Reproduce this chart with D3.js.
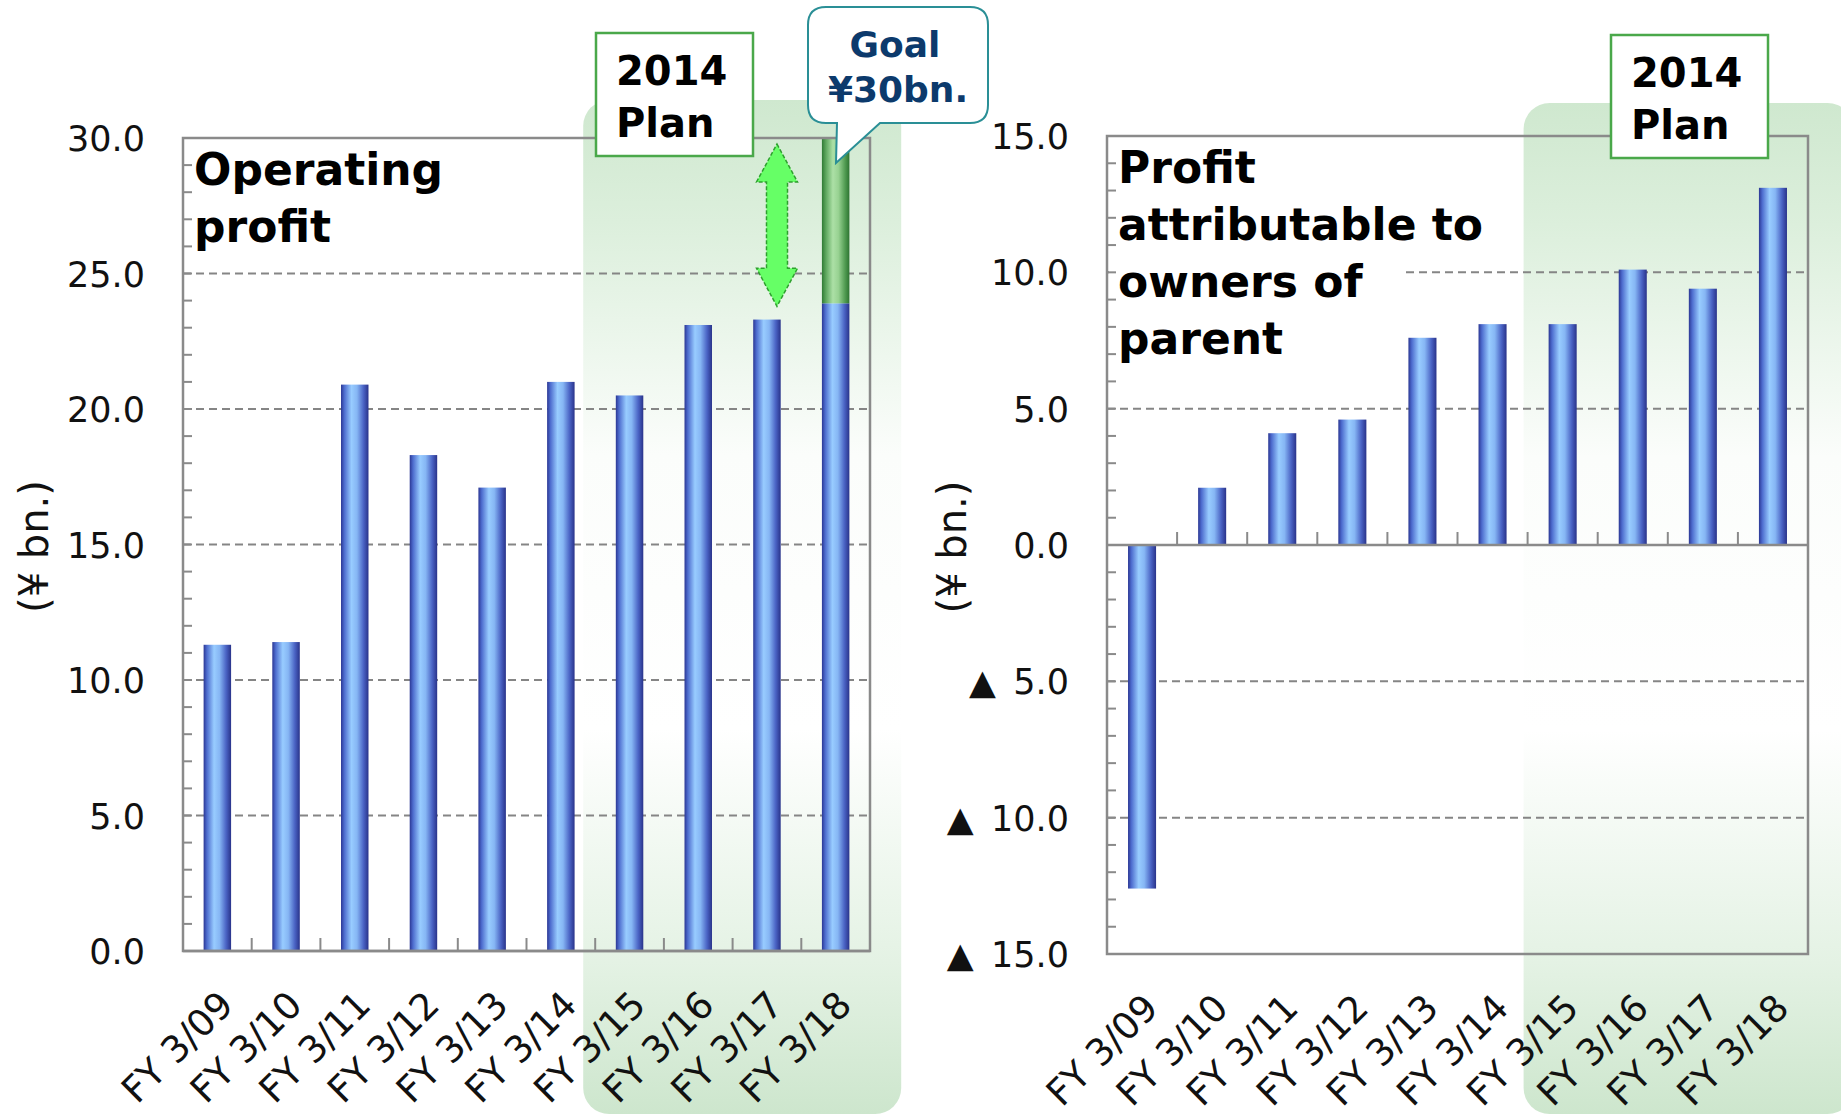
<!DOCTYPE html>
<html>
<head>
<meta charset="utf-8">
<script src="https://cdn.jsdelivr.net/npm/d3@7"></script>
<style>
  body { margin: 0; background: #fff; }
  svg { display: block; font-family: "DejaVu Sans", Verdana, sans-serif; }
  .tick-label { font-size: 35px; fill: #111; }
  .cat-label { font-size: 37px; fill: #111; }
  .unit-label { font-size: 40px; fill: #111; }
  .title { font-size: 44px; font-weight: bold; fill: #000; }
</style>
</head>
<body>
<svg id="chart" width="1841" height="1114"></svg>
<script>
// Operating profit / profit attributable to owners, FY3/09 - FY3/18 (¥ bn.)

const categories = ['FY 3/09', 'FY 3/10', 'FY 3/11', 'FY 3/12', 'FY 3/13',
                    'FY 3/14', 'FY 3/15', 'FY 3/16', 'FY 3/17', 'FY 3/18'];
const planCategories = ['FY 3/15', 'FY 3/16', 'FY 3/17', 'FY 3/18'];

const operatingProfit = [11.3, 11.4, 20.9, 18.3, 17.1, 21.0, 20.5, 23.1, 23.3, 23.9];
const operatingGoal = 30.0;   // goal for FY 3/18, shown stacked in green
const profitOwners = [-12.6, 2.1, 4.1, 4.6, 7.6, 8.1, 8.1, 10.1, 9.4, 13.1];

const leftTicks = [0, 5, 10, 15, 20, 25, 30];
const rightTicks = [-15, -10, -5, 0, 5, 10, 15];
const leftTitle = ['Operating', 'profit'];
const rightTitle = ['Profit', 'attributable to', 'owners of', 'parent'];
const unitLabel = '(¥ bn.)';

const svg = d3.select('#chart');
const defs = svg.append('defs');
const H = 1114;

function addGradient(id, stops, vertical) {
    const g = defs.append('linearGradient').attr('id', id)
        .attr('x1', 0).attr('y1', 0)
        .attr('x2', vertical ? 0 : 1).attr('y2', vertical ? 1 : 0);
    stops.forEach(s => g.append('stop').attr('offset', s[0]).attr('stop-color', s[1]));
}

addGradient('barBlue', [[0, '#2b3794'], [0.12, '#4d6cce'], [0.38, '#98ccff'],
    [0.58, '#86b6f4'], [0.82, '#4a63c4'], [1, '#29338a']]);
addGradient('barGreen', [[0, '#2f7a34'], [0.15, '#5fa85f'], [0.4, '#ace0a6'],
    [0.6, '#98d292'], [0.85, '#4f9a50'], [1, '#2e7432']]);
addGradient('bandGreen', [[0, '#cfe8cf'], [0.12, '#dcefdc'], [0.35, '#fbfdfb'],
    [0.62, '#ffffff'], [0.85, '#e4f2e4'], [1, '#cde6cd']], true);

const fmt = d3.format('.1f');

function drawPanel(opt) {
    const g = svg.append('g');
    const x = d3.scaleBand().domain(categories).range([opt.left, opt.right]);
    const y = d3.scaleLinear().domain(opt.domain).range([opt.bottom, opt.top]);
    const barW = x.bandwidth() * 0.4;

    // plan band
    const bx = x(planCategories[0]) - opt.bandOffset;
    g.append('rect')
        .attr('x', bx).attr('y', opt.bandTop)
        .attr('width', opt.bandWidth).attr('height', H - opt.bandTop)
        .attr('rx', 26)
        .attr('fill', 'url(#bandGreen)');

    // dashed grid lines
    g.selectAll('.grid')
        .data(opt.ticks.filter(t => t !== opt.domain[0] && t !== opt.domain[1] && t !== 0))
        .join('line')
        .attr('x1', opt.left).attr('x2', opt.right)
        .attr('y1', d => y(d)).attr('y2', d => y(d))
        .attr('stroke', '#858585').attr('stroke-width', 2)
        .attr('stroke-dasharray', '8,5');

    // bars
    g.selectAll('.bar')
        .data(opt.values)
        .join('rect')
        .attr('x', (d, i) => x(categories[i]) + (x.bandwidth() - barW) / 2)
        .attr('y', d => y(Math.max(0, d)))
        .attr('width', barW)
        .attr('height', d => Math.abs(y(d) - y(0)))
        .attr('fill', 'url(#barBlue)');

    if (opt.goal) {
        const last = categories[categories.length - 1];
        const v = opt.values[opt.values.length - 1];
        g.append('rect')
            .attr('x', x(last) + (x.bandwidth() - barW) / 2)
            .attr('y', y(opt.goal))
            .attr('width', barW)
            .attr('height', y(v) - y(opt.goal))
            .attr('fill', 'url(#barGreen)');
    }

    // title with white background
    g.append('rect')
        .attr('x', opt.left + 2).attr('y', opt.top + 2)
        .attr('width', opt.titleBox[0]).attr('height', opt.titleBox[1])
        .attr('fill', '#fff');
    const title = g.append('text').attr('class', 'title');
    opt.title.forEach((line, i) => {
        title.append('tspan')
            .attr('x', opt.left + 11)
            .attr('y', opt.top + 47 + i * 57)
            .text(line);
    });

    // minor ticks on y axis, every 1.0
    const minor = d3.range(opt.domain[0], opt.domain[1] + 0.001, 1);
    g.selectAll('.ytick')
        .data(minor)
        .join('line')
        .attr('x1', opt.left).attr('x2', opt.left + 9)
        .attr('y1', d => y(d)).attr('y2', d => y(d))
        .attr('stroke', '#8a8a8a').attr('stroke-width', 2);

    // zero line + category ticks
    g.append('line')
        .attr('x1', opt.left).attr('x2', opt.right)
        .attr('y1', y(0)).attr('y2', y(0))
        .attr('stroke', '#8a8a8a').attr('stroke-width', 2.5);
    g.selectAll('.xtick')
        .data(categories.slice(1))
        .join('line')
        .attr('x1', d => x(d)).attr('x2', d => x(d))
        .attr('y1', y(0)).attr('y2', y(0) - 13)
        .attr('stroke', '#8a8a8a').attr('stroke-width', 2);

    // frame
    g.append('rect')
        .attr('x', opt.left).attr('y', opt.top)
        .attr('width', opt.right - opt.left).attr('height', opt.bottom - opt.top)
        .attr('fill', 'none').attr('stroke', '#8a8a8a').attr('stroke-width', 2.5);

    // y tick labels
    g.selectAll('.ylabel')
        .data(opt.ticks)
        .join('text')
        .attr('class', 'tick-label')
        .attr('x', opt.left - 38)
        .attr('y', d => y(d) + 13)
        .attr('text-anchor', 'end')
        .text(d => d < 0 ? '▲\u2002' + fmt(-d) : fmt(d));

    // x category labels
    g.selectAll('.xlabel')
        .data(categories)
        .join('text')
        .attr('class', 'cat-label')
        .attr('text-anchor', 'end')
        .attr('transform', d => `translate(${x(d) + x.bandwidth() / 2 + 18},${opt.bottom + 56}) rotate(-45)`)
        .text(d => d);

    // unit label
    g.append('text')
        .attr('class', 'unit-label')
        .attr('text-anchor', 'middle')
        .attr('transform', `translate(${opt.unitX},${(opt.top + opt.bottom) / 2 + 2}) rotate(-90)`)
        .text(unitLabel);

    // 2014 Plan box
    const pb = g.append('g').attr('transform', `translate(${opt.planBox[0]},${opt.planBox[1]})`);
    pb.append('rect')
        .attr('width', 157).attr('height', 123)
        .attr('fill', '#fff').attr('stroke', '#4aa84a').attr('stroke-width', 2.5);
    pb.append('text').attr('class', 'title').style('font-size', '40px')
        .attr('x', 20).attr('y', 52).text('2014');
    pb.append('text').attr('class', 'title').style('font-size', '40px')
        .attr('x', 20).attr('y', 104).text('Plan');

    return { x, y };
}

const left = drawPanel({
    left: 183, right: 870, top: 138, bottom: 951,
    domain: [0, 30], ticks: leftTicks, values: operatingProfit, goal: operatingGoal,
    title: leftTitle, titleBox: [270, 120],
    bandOffset: 12, bandTop: 100, bandWidth: 318,
    unitX: 48, planBox: [596, 33]
});

const right = drawPanel({
    left: 1107, right: 1808, top: 136, bottom: 954,
    domain: [-15, 15], ticks: rightTicks, values: profitOwners,
    title: rightTitle, titleBox: [296, 232],
    bandOffset: 4, bandTop: 103, bandWidth: 330,
    unitX: 966, planBox: [1611, 35]
});

// double arrow: from goal down to FY 3/18 plan figure
const ax = 777;
const aTop = left.y(operatingGoal) + 6;
const aBot = left.y(operatingProfit[operatingProfit.length - 1]) + 3;
const headH = 38, headW = 20.5, shaftW = 10.5;
svg.append('path')
    .attr('d', [
        `M${ax},${aTop}`,
        `L${ax + headW},${aTop + headH}`, `L${ax + shaftW},${aTop + headH}`,
        `L${ax + shaftW},${aBot - headH}`, `L${ax + headW},${aBot - headH}`,
        `L${ax},${aBot}`,
        `L${ax - headW},${aBot - headH}`, `L${ax - shaftW},${aBot - headH}`,
        `L${ax - shaftW},${aTop + headH}`, `L${ax - headW},${aTop + headH}`, 'Z'
    ].join(' '))
    .attr('fill', '#66ff66')
    .attr('stroke', '#2ea02e').attr('stroke-width', 1.5)
    .attr('stroke-dasharray', '4,2');

// goal callout
const callout = svg.append('g');
callout.append('path')
    .attr('d', 'M826,7 H970 Q988,7 988,25 V105 Q988,123 970,123 H880 L836,163 L837,123 H826 Q808,123 808,105 V25 Q808,7 826,7 Z')
    .attr('fill', '#fff').attr('stroke', '#2a8f96').attr('stroke-width', 2);
callout.append('text')
    .attr('class', 'title').style('font-size', '36px').style('fill', '#0c3a6c')
    .attr('x', 895).attr('y', 57).attr('text-anchor', 'middle').text('Goal');
callout.append('text')
    .attr('class', 'title').style('font-size', '36px').style('fill', '#0c3a6c')
    .attr('x', 898).attr('y', 102).attr('text-anchor', 'middle').text('¥30bn.');
</script>
</body>
</html>
